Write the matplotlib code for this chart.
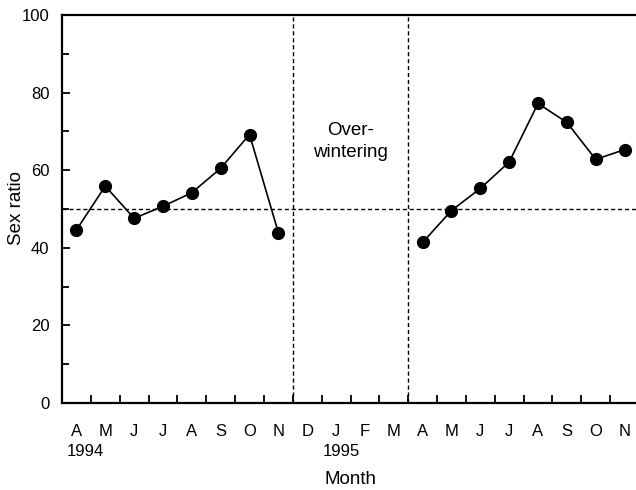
import matplotlib
matplotlib.use("Agg")
import matplotlib.pyplot as plt
from matplotlib.ticker import FixedLocator, MultipleLocator
import matplotlib.transforms as mtransforms

plt.rcParams['font.family'] = ['Liberation Sans', 'DejaVu Sans']

# months from April 1994 to November 1995
MONTH_LABELS = ["A", "M", "J", "J", "A", "S", "O", "N",
                "D", "J", "F", "M",
                "A", "M", "J", "J", "A", "S", "O", "N"]

# sex ratio per month (index into MONTH_LABELS)
MONTHS_1994 = [0, 1, 2, 3, 4, 5, 6, 7]
RATIO_1994 = [44.6, 55.9, 47.6, 50.7, 54.2, 60.5, 69.2, 43.9]

MONTHS_1995 = [12, 13, 14, 15, 16, 17, 18, 19]
RATIO_1995 = [41.4, 49.6, 55.3, 62.1, 77.2, 72.3, 62.8, 65.3]

# borders of the over-wintering period (month boundaries)
WINTER_START = 8
WINTER_END = 12
EVEN_RATIO = 50

YEAR_LABELS = [("1994", 0.8), ("1995", 9.7)]


def main():
    fig = plt.figure(figsize=(6.36, 4.90), dpi=100)
    ax = fig.add_axes([62 / 636, 87 / 490, 577 / 636, 388 / 490])

    n = len(MONTH_LABELS)
    ax.set_xlim(0, n)
    ax.set_ylim(0, 100)

    # dashed reference lines
    dash = dict(color="black", lw=1.0, dashes=(3, 2))
    ax.axhline(EVEN_RATIO, **dash)
    ax.axvline(WINTER_START, **dash)
    ax.axvline(WINTER_END, **dash)

    for months, ratio in [(MONTHS_1994, RATIO_1994), (MONTHS_1995, RATIO_1995)]:
        ax.plot([m + 0.5 for m in months], ratio, color="black", lw=1.2,
                marker="o", markersize=8.5, zorder=3)

    ax.text((WINTER_START + WINTER_END) / 2, 67.4, "Over-\nwintering",
            ha="center", va="center", fontsize=13.5, linespacing=1.4)

    # axes styling
    for side in ["left", "bottom", "top"]:
        ax.spines[side].set_linewidth(1.6)
    ax.spines["right"].set_visible(False)

    ax.yaxis.set_major_locator(MultipleLocator(20))
    ax.yaxis.set_minor_locator(MultipleLocator(10))
    ax.tick_params(axis="y", which="major", direction="in", length=6, width=1.3,
                   labelsize=12, pad=9)
    ax.tick_params(axis="y", which="minor", direction="in", length=5, width=1.3)

    # tick marks on month boundaries, labels in month centres
    ax.xaxis.set_major_locator(FixedLocator(range(1, n)))
    ax.xaxis.set_minor_locator(FixedLocator([i + 0.5 for i in range(n)]))
    ax.set_xticklabels([], minor=False)
    ax.set_xticklabels(MONTH_LABELS, minor=True)
    ax.tick_params(axis="x", which="major", direction="in", length=6, width=1.3)
    ax.tick_params(axis="x", which="minor", length=0, labelsize=12, pad=15)

    trans = mtransforms.blended_transform_factory(ax.transData, ax.transAxes)
    for year, xpos in YEAR_LABELS:
        ax.text(xpos, -0.125, year, transform=trans, ha="center", va="center",
                fontsize=12)

    ax.text(0.5, -0.198, "Month", transform=ax.transAxes, ha="center",
            va="center", fontsize=13.5)
    fig.text(16.5 / 636, 1 - 208 / 490, "Sex ratio",
             rotation=90, ha="center", va="center", fontsize=13.5)

    fig.savefig("out.png", dpi=100)
    plt.close(fig)


if __name__ == "__main__":
    main()
